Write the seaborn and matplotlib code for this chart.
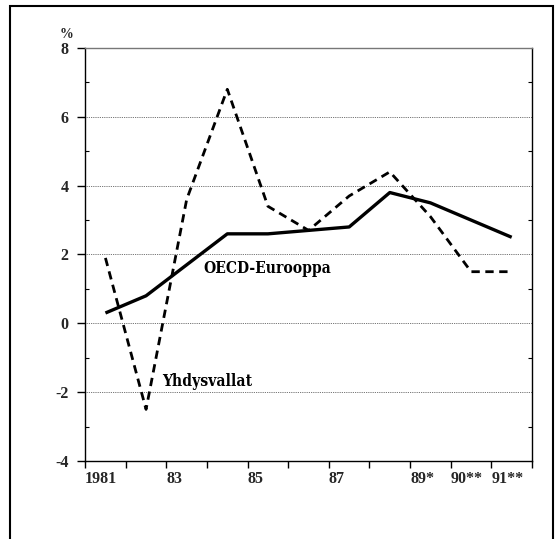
import matplotlib
matplotlib.use("Agg")
import matplotlib.pyplot as plt
import seaborn as sns
import pandas as pd
from matplotlib.patches import Rectangle
from matplotlib.ticker import MultipleLocator
from matplotlib import font_manager as fm

years = [1981, 1982, 1983, 1984, 1985, 1986, 1987, 1988, 1989, 1990, 1991]
oecd_eurooppa = [0.3, 0.8, 1.7, 2.6, 2.6, 2.7, 2.8, 3.8, 3.5, 3.0, 2.5]
yhdysvallat = [1.9, -2.5, 3.6, 6.8, 3.4, 2.7, 3.7, 4.4, 3.1, 1.5, 1.5]
tick_years = [1981, 1982, 1983, 1984, 1985, 1986, 1987, 1988, 1989, 1990, 1991, 1992]
tick_labels = ["1981", "", "83", "", "85", "", "87", "", "89*", "90**", "91**", ""]
y_ticks = [-4, -2, 0, 2, 4, 6, 8]

sns.set_theme(style="white")
plt.rcParams["font.family"] = ["Liberation Serif", "DejaVu Serif"]

# condensed serif for the series labels if available
cond = fm.FontProperties(family="DejaVu Serif", stretch="condensed", weight="bold")
path = fm.findfont(cond, fallback_to_default=False)
if "Condensed" in path:
    label_font = dict(fontproperties=fm.FontProperties(fname=path, size=11.2))
else:
    label_font = dict(family="Liberation Serif", fontweight="bold", fontsize=11.5)

df = pd.DataFrame({
    "x": [y + 0.5 for y in years] * 2,
    "value": oecd_eurooppa + yhdysvallat,
    "series": ["OECD-Eurooppa"] * len(years) + ["Yhdysvallat"] * len(years),
})

fig = plt.figure(figsize=(5.6, 5.39), dpi=100)
ax = fig.add_axes([0.152, 0.1447, 0.798, 0.7663])

sns.lineplot(data=df, x="x", y="value", style="series",
             dashes={"OECD-Eurooppa": "", "Yhdysvallat": (3.0, 2.0)},
             color="black", legend=False, ax=ax)
for ln, lw in zip(ax.lines, [2.4, 2.0]):
    ln.set_linewidth(lw)
    ln.set_solid_capstyle("butt")

ax.set_xlim(1981, 1992)
ax.set_ylim(-4, 8)
ax.set_xlabel("")
ax.set_ylabel("")

ax.set_xticks(tick_years)
ax.set_xticklabels(tick_labels, fontweight="bold", fontsize=11.5, ha="left")
ax.set_yticks(y_ticks)
ax.set_yticklabels([str(v) for v in y_ticks], fontweight="bold", fontsize=11.5)
ax.yaxis.set_minor_locator(MultipleLocator(1))

ax.tick_params(axis="x", which="major", direction="out", length=5, width=1,
               color="black", pad=2, bottom=True)
ax.tick_params(axis="y", which="major", direction="out", length=6, width=1,
               color="black", pad=6, left=True)
ax.tick_params(axis="y", which="minor", direction="in", length=3, width=0.8,
               color="black", left=True, right=True)
for lbl in ax.get_xticklabels():
    lbl.set_horizontalalignment("left")

ax.grid(False)
for v in y_ticks[1:-1]:
    ax.axhline(v, color="#444444", lw=0.6, ls=(0, (1, 1.2)), zorder=0)

for side in ["left", "bottom", "right"]:
    ax.spines[side].set_color("black")
    ax.spines[side].set_linewidth(1.0)
ax.spines["top"].set_color("#777777")
ax.spines["top"].set_linewidth(1.0)

ax.text(1983.9, 1.6, "OECD-Eurooppa", va="center", ha="left", color="black", **label_font)
ax.text(1982.9, -1.7, "Yhdysvallat", va="center", ha="left", color="black", **label_font)

fig.text(0.118, 0.936, "%", fontsize=10, fontweight="bold", ha="center", va="center")

fig.patches.append(Rectangle((0.018, -0.05), 0.9695, 1.039, transform=fig.transFigure,
                             fill=False, edgecolor="black", lw=1.5))

fig.savefig("out.png", dpi=100)
